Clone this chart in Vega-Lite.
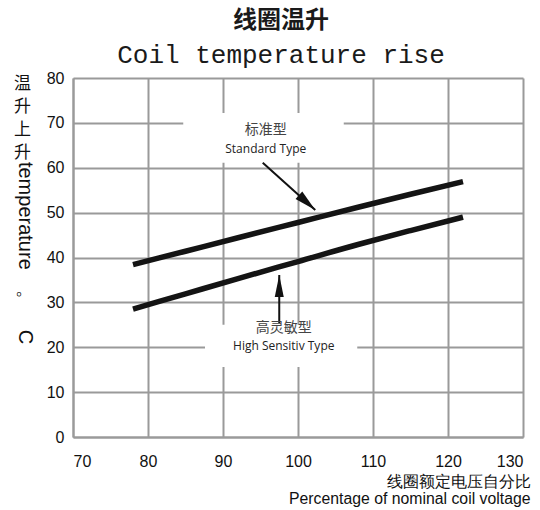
{
  "$schema": "https://vega.github.io/schema/vega-lite/v6.json",
  "width": 450,
  "height": 359,
  "autosize": {"type": "none"},
  "padding": {"left": 73, "top": 78, "right": 17, "bottom": 73},
  "background": "white",
  "title": {
    "text": "线圈温升",
    "subtitle": "Coil temperature rise",
    "anchor": "middle",
    "dx": -17,
    "font": "Noto Sans CJK SC",
    "fontSize": 24,
    "fontWeight": "bold",
    "color": "#1a1a1a",
    "subtitleFont": "Liberation Mono",
    "subtitleFontSize": 26,
    "subtitleColor": "#1a1a1a",
    "subtitlePadding": 9,
    "offset": 2
  },
  "config": {
    "view": {"stroke": null},
    "axis": {
      "domainColor": "#9a9a9a",
      "domainWidth": 2,
      "gridColor": "#9a9a9a",
      "gridWidth": 2,
      "gridOpacity": 1,
      "labelColor": "#111111",
      "labelFont": "Liberation Sans",
      "labelFontSize": 16,
      "ticks": false
    }
  },
  "datasets": {
    "curves": [
      {"series": "Standard", "pct": 78, "temp": 38.4},
      {"series": "Standard", "pct": 85, "temp": 41.4},
      {"series": "Standard", "pct": 92, "temp": 44.4},
      {"series": "Standard", "pct": 100, "temp": 47.8},
      {"series": "Standard", "pct": 108, "temp": 51.2},
      {"series": "Standard", "pct": 115, "temp": 54.1},
      {"series": "Standard", "pct": 122, "temp": 56.9},
      {"series": "High", "pct": 78, "temp": 28.5},
      {"series": "High", "pct": 85, "temp": 31.9},
      {"series": "High", "pct": 92, "temp": 35.3},
      {"series": "High", "pct": 100, "temp": 39.1},
      {"series": "High", "pct": 108, "temp": 42.9},
      {"series": "High", "pct": 115, "temp": 46.0},
      {"series": "High", "pct": 122, "temp": 49.0}
    ],
    "notes": [
      {"series": "Standard", "zh": "标准型", "en": "Standard Type", "tx": 95.7, "ty": 68.4, "bx1": 84.7, "bx2": 106.1, "by1": 61.1, "by2": 72.2, "ax": 95.3, "ay": 61.1, "hx": 102.3, "hy": 50.6},
      {"series": "High", "zh": "高灵敏型", "en": "High Sensitiv Type", "tx": 98.1, "ty": 24.3, "bx1": 87.6, "bx2": 107.9, "by1": 15.6, "by2": 25.0, "ax": 97.5, "ay": 25.4, "hx": 97.5, "hy": 36.1}
    ]
  },
  "layer": [
    {
      "data": {"name": "curves"},
      "mark": {"type": "line", "color": "#141414", "strokeWidth": 5.5, "strokeCap": "butt", "interpolate": "monotone"},
      "encoding": {
        "x": {
          "field": "pct", "type": "quantitative",
          "scale": {"domain": [70, 130], "nice": false, "zero": false},
          "axis": {
            "values": [70, 80, 90, 100, 110, 120, 130],
            "title": ["线圈额定电压自分比", "Percentage of nominal coil voltage"],
            "titleFont": "Liberation Sans",
            "titleFontSize": 15.8,
            "titleFontWeight": "normal",
            "titleColor": "#111111",
            "titleAnchor": "end",
            "titleAlign": "right",
            "titleBaseline": "top",
            "titleX": 457,
            "titleY": 37,
            "titleLineHeight": 17,
            "labelPadding": 16
          }
        },
        "y": {
          "field": "temp", "type": "quantitative",
          "scale": {"domain": [0, 80], "nice": false},
          "axis": {
            "values": [0, 10, 20, 30, 40, 50, 60, 70, 80],
            "title": ["温", "升", "上", "升"],
            "titleFont": "Noto Sans CJK SC",
            "titleFontSize": 17,
            "titleFontWeight": "normal",
            "titleColor": "#111111",
            "titleAngle": 0,
            "titleAlign": "center",
            "titleBaseline": "top",
            "titleX": -51,
            "titleY": -3,
            "titleLineHeight": 23,
            "labelPadding": 9
          }
        },
        "detail": {"field": "series"}
      }
    },
    {
      "data": {"name": "notes"},
      "mark": {"type": "rect", "fill": "white"},
      "encoding": {
        "x": {"field": "bx1", "type": "quantitative"},
        "x2": {"field": "bx2"},
        "y": {"field": "by1", "type": "quantitative"},
        "y2": {"field": "by2"}
      }
    },
    {
      "data": {"name": "notes"},
      "mark": {"type": "rule", "color": "#111111", "strokeWidth": 2},
      "encoding": {
        "x": {"field": "ax", "type": "quantitative"},
        "y": {"field": "ay", "type": "quantitative"},
        "x2": {"field": "hx"},
        "y2": {"field": "hy"}
      }
    },
    {
      "data": {"name": "notes"},
      "transform": [{"filter": "datum.series == 'Standard'"}],
      "mark": {"type": "point", "shape": "M0,0L0.5,2.2L-0.5,2.2Z", "filled": true, "color": "#111111", "opacity": 1, "size": 400, "angle": 132},
      "encoding": {
        "x": {"field": "hx", "type": "quantitative"},
        "y": {"field": "hy", "type": "quantitative"}
      }
    },
    {
      "data": {"name": "notes"},
      "transform": [{"filter": "datum.series == 'High'"}],
      "mark": {"type": "point", "shape": "M0,0L0.45,2.2L-0.45,2.2Z", "filled": true, "color": "#111111", "opacity": 1, "size": 400, "angle": 0},
      "encoding": {
        "x": {"field": "hx", "type": "quantitative"},
        "y": {"field": "hy", "type": "quantitative"}
      }
    },
    {
      "data": {"name": "notes"},
      "mark": {"type": "text", "font": "Noto Sans CJK SC", "fontSize": 14, "color": "#444444", "baseline": "middle", "align": "center"},
      "encoding": {
        "x": {"field": "tx", "type": "quantitative"},
        "y": {"field": "ty", "type": "quantitative"},
        "text": {"field": "zh"}
      }
    },
    {
      "data": {"name": "notes"},
      "mark": {"type": "text", "font": "Open Sans", "fontSize": 12, "color": "#222222", "baseline": "middle", "align": "center", "dy": 18.5},
      "encoding": {
        "x": {"field": "tx", "type": "quantitative"},
        "y": {"field": "ty", "type": "quantitative"},
        "text": {"field": "en"}
      }
    },
    {
      "data": {"values": [{"label": "temperature\u3000。\u3000C"}]},
      "mark": {"type": "text", "angle": 90, "align": "left", "baseline": "middle", "font": "Liberation Sans", "fontSize": 20, "color": "#111111"},
      "encoding": {
        "x": {"datum": 63.6, "type": "quantitative"},
        "y": {"datum": 61.3, "type": "quantitative"},
        "text": {"field": "label"}
      }
    }
  ]
}
